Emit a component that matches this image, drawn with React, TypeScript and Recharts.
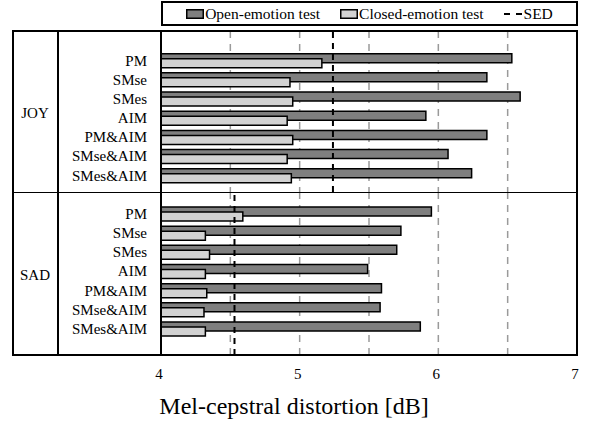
import React from "react";
import { Bar, BarChart, CartesianGrid, Label, Legend, ReferenceLine, XAxis, YAxis } from "recharts";

const METHODS = ["PM", "SMse", "SMes", "AIM", "PM&AIM", "SMse&AIM", "SMes&AIM"];

const JOY_OPEN = [6.53, 6.35, 6.59, 5.91, 6.35, 6.07, 6.24];
const JOY_CLOSED = [5.16, 4.93, 4.95, 4.91, 4.95, 4.91, 4.94];
const JOY_SED = 5.24;

const SAD_OPEN = [5.95, 5.73, 5.7, 5.49, 5.59, 5.58, 5.87];
const SAD_CLOSED = [4.59, 4.32, 4.35, 4.32, 4.33, 4.31, 4.32];
const SAD_SED = 4.53;

const X_DOMAIN = [4, 7];
const X_TICKS = [4, 5, 6, 7];
const GRID_TICKS = [4.5, 5, 5.5, 6, 6.5];
const X_TITLE = "Mel-cepstral distortion [dB]";
const LEGEND_NAMES = ["Open-emotion test", "Closed-emotion test", "SED"];

const FONT = '"Liberation Serif", "Times New Roman", serif';
const OPEN_FILL = "#7f7f7f";
const CLOSED_FILL = "#d2d2d2";
const W = 593;

const rows = (open: number[], closed: number[]) =>
  METHODS.map((method, i) => ({ method, open: open[i], closed: closed[i] }));

const joyData = rows(JOY_OPEN, JOY_CLOSED);
const sadData = rows(SAD_OPEN, SAD_CLOSED);

// griglia verticale tratteggiata ai mezzi punti, presa dalla scala dell'asse
const gridX = ({ xAxis }: any) => {
  const scale = xAxis?.scale;
  if (!scale) return [];
  return GRID_TICKS.map((v) => (typeof scale === "function" ? scale(v) : scale.map(v)));
};

// icone della legenda, nello stesso ordine di LEGEND_NAMES
function LegendIcon({ index }: { index: number }) {
  if (index === 2) {
    return (
      <svg width={18} height={10}>
        <line x1={0} y1={5} x2={18} y2={5} stroke="#000" strokeWidth={2} strokeDasharray="6 6" />
      </svg>
    );
  }
  return (
    <svg width={18} height={10}>
      <rect x={0.75} y={0.75} width={16.5} height={8.5} fill={index === 0 ? OPEN_FILL : CLOSED_FILL} stroke="#000" strokeWidth={1.5} />
    </svg>
  );
}

const renderLegend = () => (
  <div
    style={{
      boxSizing: "border-box",
      width: "100%",
      height: "100%",
      border: "2px solid #000",
      display: "flex",
      alignItems: "center",
      justifyContent: "center",
      fontFamily: FONT,
      fontSize: 15.5,
      color: "#000",
      background: "#fff",
    }}
  >
    {LEGEND_NAMES.map((name, i) => (
      <span key={name} style={{ display: "inline-flex", alignItems: "center", marginLeft: i ? 20 : 0 }}>
        <LegendIcon index={i} />
        <span style={{ marginLeft: i === 2 ? 2 : 1 }}>{name}</span>
      </span>
    ))}
  </div>
);

type PanelProps = {
  data: { method: string; open: number; closed: number }[];
  sed: number;
  height: number;
  margin: { top: number; right: number; bottom: number; left: number };
  padding: { top: number; bottom: number };
  bottomAxis?: boolean;
  legend?: boolean;
};

function Panel({ data, sed, height, margin, padding, bottomAxis, legend }: PanelProps) {
  return (
    <BarChart width={W} height={height} data={data} layout="vertical" margin={margin} barSize={9} barGap={-4}>
      <CartesianGrid
        horizontal={false}
        verticalCoordinatesGenerator={gridX}
        stroke="#9a9a9a"
        strokeWidth={1.5}
        strokeDasharray="7 6"
      />
      <XAxis
        type="number"
        domain={X_DOMAIN}
        ticks={X_TICKS}
        hide={!bottomAxis}
        allowDataOverflow
        axisLine={false}
        tickLine={false}
        tickSize={0}
        tickMargin={13}
        height={64}
        tick={{ fill: "#000", fontSize: 15, dx: -2 }}
      >
        {bottomAxis && <Label value={X_TITLE} position="insideBottom" offset={5} dx={-75} fontSize={24} fill="#000" />}
      </XAxis>
      <YAxis
        type="category"
        dataKey="method"
        width={161}
        axisLine={false}
        tickLine={false}
        tickSize={0}
        tickMargin={14}
        padding={padding}
        interval={0}
        tick={{ fill: "#000", fontSize: 15 }}
      />
      <Bar dataKey="open" name={LEGEND_NAMES[0]} fill={OPEN_FILL} stroke="#000" strokeWidth={1.5} isAnimationActive={false} />
      <Bar dataKey="closed" name={LEGEND_NAMES[1]} fill={CLOSED_FILL} stroke="#000" strokeWidth={1.5} isAnimationActive={false} />
      <ReferenceLine x={sed} stroke="#000" strokeWidth={2} strokeDasharray="6 5" />
      {legend && (
        <Legend
          layout="horizontal"
          verticalAlign="middle"
          align="center"
          content={renderLegend}
          wrapperStyle={{ top: 1, left: 161, width: 417, height: 25 }}
        />
      )}
    </BarChart>
  );
}

const line = (left: number, top: number, width: number, height: number): React.CSSProperties => ({
  position: "absolute",
  left,
  top,
  width,
  height,
  background: "#000",
});

const groupLabel: React.CSSProperties = {
  position: "absolute",
  left: 13,
  width: 44,
  height: 15,
  lineHeight: "15px",
  fontSize: 15,
  textAlign: "center",
};

export default function App() {
  return (
    <div style={{ position: "absolute", left: 0, top: 0, width: W, height: 423, background: "#fff", fontFamily: FONT, color: "#000" }}>
      <div style={{ position: "absolute", left: 0, top: 0 }}>
        <Panel
          data={joyData}
          sed={JOY_SED}
          height={192}
          margin={{ top: 31, right: 16, bottom: 0, left: 0 }}
          padding={{ top: 19.7, bottom: 7.1 }}
          legend
        />
      </div>
      <div style={{ position: "absolute", left: 0, top: 192 }}>
        <Panel
          data={sadData}
          sed={SAD_SED}
          height={231}
          margin={{ top: 0, right: 16, bottom: 4, left: 0 }}
          padding={{ top: 12, bottom: 16.8 }}
          bottomAxis
        />
      </div>

      {/* cornice della tabella */}
      <div style={{ position: "absolute", left: 12, top: 30, width: 566, height: 326, border: "2px solid #000", boxSizing: "border-box" }} />
      <div style={line(57, 30, 1.5, 326)} />
      <div style={line(160, 30, 2, 326)} />
      <div style={line(12, 191.5, 566, 1.5)} />

      <div style={{ ...groupLabel, top: 106 }}>JOY</div>
      <div style={{ ...groupLabel, top: 268 }}>SAD</div>
    </div>
  );
}
